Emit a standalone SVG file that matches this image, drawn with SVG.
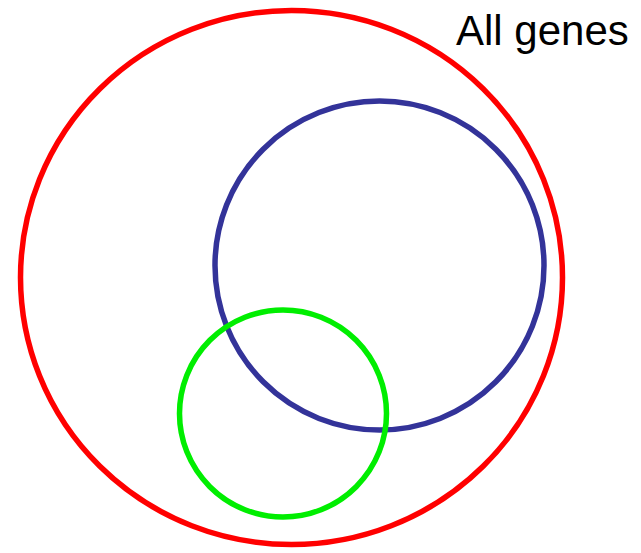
<svg xmlns="http://www.w3.org/2000/svg" width="641" height="553" viewBox="0 0 641 553">
<style>
.set{fill:none;stroke-width:5.5}
.lbl{font-family:"Liberation Sans",Arial,sans-serif;font-size:42px;fill:#000}
</style>
<rect width="641" height="553" fill="#fff"/>
<g id="all-genes">
<ellipse class="set" cx="291.5" cy="277.5" rx="271" ry="267" stroke="#ff0000"/>
<text class="lbl" x="456" y="45">All genes</text>
</g>
<g id="blue-set">
<circle class="set" cx="379.5" cy="265.5" r="164.5" stroke="#333399"/>
</g>
<g id="green-set">
<circle class="set" cx="283" cy="413.5" r="103.5" stroke="#00ee00"/>
</g>
<g id="connectors"></g>
</svg>
